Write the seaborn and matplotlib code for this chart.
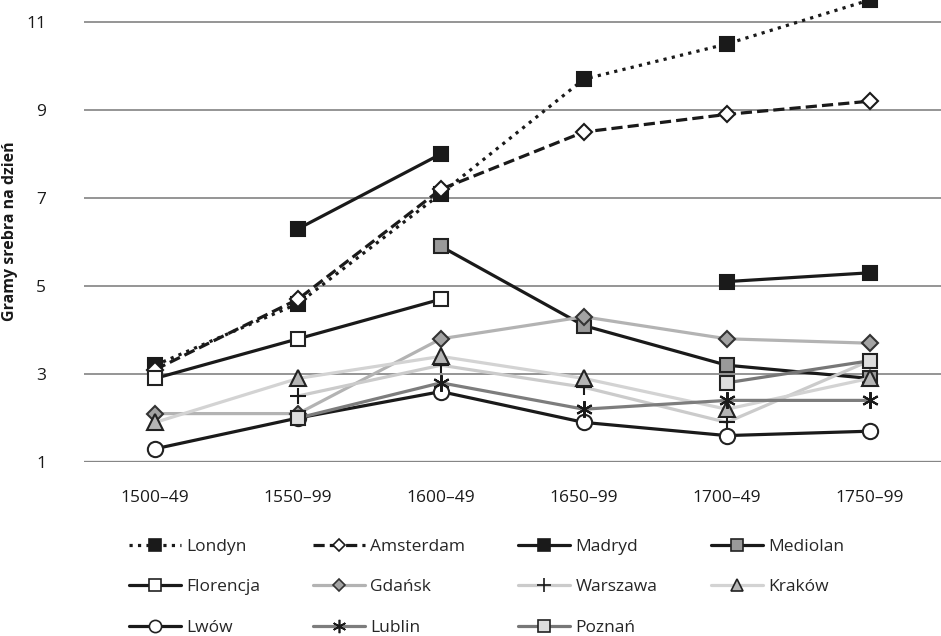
import numpy as np
import pandas as pd
import matplotlib
matplotlib.use("Agg")
import matplotlib.pyplot as plt
from matplotlib.lines import Line2D
import seaborn as sns

nan = np.nan

# Periods on the x axis
okresy = ["1500–49", "1550–99", "1600–49", "1650–99", "1700–49", "1750–99"]

# Grams of silver per day
londyn = [3.2, 4.6, 7.1, 9.7, 10.5, 11.5]
amsterdam = [3.1, 4.7, 7.2, 8.5, 8.9, 9.2]
madryd = [nan, 6.3, 8.0, nan, 5.1, 5.3]
mediolan = [nan, nan, 5.9, 4.1, 3.2, 2.9]
florencja = [2.9, 3.8, 4.7, nan, nan, nan]
gdansk = [2.1, 2.1, 3.8, 4.3, 3.8, 3.7]
warszawa = [nan, 2.5, 3.2, 2.7, 1.9, 3.3]
krakow = [1.9, 2.9, 3.4, 2.9, 2.2, 2.9]
lwow = [1.3, 2.0, 2.6, 1.9, 1.6, 1.7]
lublin = [nan, 2.0, 2.8, 2.2, 2.4, 2.4]
poznan = [nan, 2.0, nan, nan, 2.8, 3.3]

miasta = ["Londyn", "Amsterdam", "Madryd", "Mediolan", "Florencja", "Gdańsk",
          "Warszawa", "Kraków", "Lwów", "Lublin", "Poznań"]
wartosci = [londyn, amsterdam, madryd, mediolan, florencja, gdansk,
            warszawa, krakow, lwow, lublin, poznan]

asterisk = (6, 2, 0)
style = {
    "Londyn":    dict(color="#1a1a1a", ls=":", marker="s", mfc="#1a1a1a", mec="#1a1a1a"),
    "Amsterdam": dict(color="#1a1a1a", ls=(0, (3.5, 1.6)), marker="D", mfc="white", mec="#1a1a1a", ms=8),
    "Madryd":    dict(color="#1a1a1a", ls="-", marker="s", mfc="#1a1a1a", mec="#1a1a1a"),
    "Mediolan":  dict(color="#1a1a1a", ls="-", marker="s", mfc="#9a9a9a", mec="#222222"),
    "Florencja": dict(color="#1a1a1a", ls="-", marker="s", mfc="white", mec="#222222"),
    "Gdańsk":    dict(color="#b3b3b3", ls="-", marker="D", mfc="#a3a3a3", mec="#333333", ms=8),
    "Warszawa":  dict(color="#cbcbcb", ls="-", marker="+", mfc="#1a1a1a", mec="#1a1a1a", ms=12),
    "Kraków":    dict(color="#d3d3d3", ls="-", marker="^", mfc="#b5b5b5", mec="#222222", ms=11),
    "Lwów":      dict(color="#1a1a1a", ls="-", marker="o", mfc="white", mec="#222222", ms=11),
    "Lublin":    dict(color="#7d7d7d", ls="-", marker=asterisk, mfc="#1a1a1a", mec="#1a1a1a", ms=12),
    "Poznań":    dict(color="#777777", ls="-", marker="s", mfc="#dedede", mec="#222222"),
}

# long table; break each series into runs so gaps stay open
rows = []
for miasto, vals in zip(miasta, wartosci):
    seg = 0
    for i, v in enumerate(vals):
        if np.isnan(v):
            seg += 1
            continue
        rows.append({"miasto": miasto, "x": i, "okres": okresy[i], "wartosc": v, "seg": seg})
df = pd.DataFrame(rows)

sns.set_style("white")
plt.rcParams["font.family"] = ["Open Sans", "DejaVu Sans"]

fig = plt.figure(figsize=(9.41, 6.36), dpi=100)
ax = fig.add_axes([0.089, 0.2736, 0.911, 0.7264])

for miasto in miasta:
    st = style[miasto]
    sub = df[df["miasto"] == miasto]
    sns.lineplot(data=sub, x="x", y="wartosc", units="seg", estimator=None, ax=ax,
                 color=st["color"], linestyle=st["ls"], linewidth=2.3,
                 marker=st["marker"], markersize=st.get("ms", 10),
                 markerfacecolor=st["mfc"], markeredgecolor=st["mec"],
                 markeredgewidth=1.5, legend=False, clip_on=False)

ax.set_xlim(-0.5, 5.5)
ax.set_ylim(1, 11.5)
ax.set_yticks([1, 3, 5, 7, 9, 11])
ax.set_xticks(range(len(okresy)), labels=okresy)
ax.yaxis.grid(True, color="#8c8c8c", linewidth=1.3)
ax.set_axisbelow(True)
for s in ax.spines.values():
    s.set_visible(False)
ax.axhline(1, color="#555555", linewidth=1.6, zorder=0.5)
ax.tick_params(axis="both", length=0, labelsize=12.5, colors="#1a1a1a")
ax.tick_params(axis="x", pad=20)
ax.tick_params(axis="y", pad=27)
ax.set_xlabel("")
ax.set_ylabel("Gramy srebra na dzień", fontsize=11.5, fontweight="bold", color="#1a1a1a")
ax.yaxis.set_label_coords(-0.077, 0.5)

handles = {}
for miasto in miasta:
    st = style[miasto]
    handles[miasto] = Line2D([], [], color=st["color"], linestyle=st["ls"], linewidth=2.3,
                             marker=st["marker"], markersize=st.get("ms", 10) * 0.8,
                             markerfacecolor=st["mfc"], markeredgecolor=st["mec"],
                             markeredgewidth=1.2, label=miasto)

# legend fills column by column, so order the entries to read row by row
kolejnosc = ["Londyn", "Florencja", "Lwów", "Amsterdam", "Gdańsk", "Lublin",
             "Madryd", "Warszawa", "Poznań", "Mediolan", "Kraków"]
fig.legend(handles=[handles[m] for m in kolejnosc], loc="upper left",
           bbox_to_anchor=(0.137, 0.153), ncol=4, frameon=False, fontsize=12.5,
           handlelength=3.0, handletextpad=0.3, columnspacing=3.05, labelspacing=1.4,
           borderaxespad=0, borderpad=0)

fig.savefig("out.png", dpi=100)
